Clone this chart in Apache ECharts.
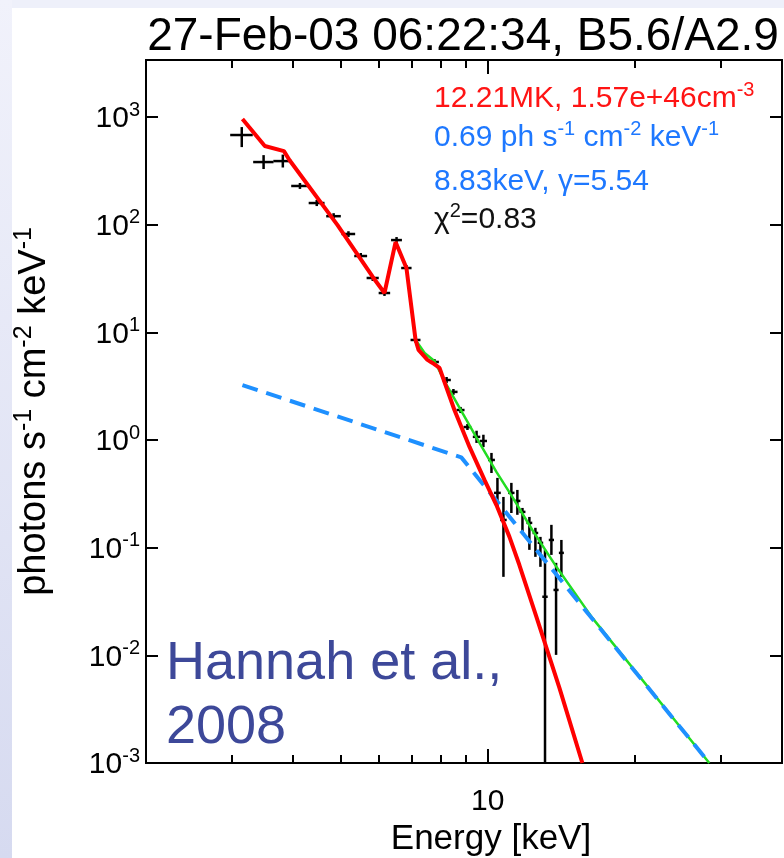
<!DOCTYPE html>
<html lang="en">
<head>
    <meta charset="UTF-8">
    <title>RHESSI spectrum</title>
    <script src="https://cdn.jsdelivr.net/npm/echarts@6/dist/echarts.min.js"></script>
    <style>
        html, body { margin: 0; padding: 0; background: #fff; }
        #chart { width: 784px; height: 858px; }
    </style>
</head>
<body>
    <div id="chart"></div>
    <script>
        // observed count spectrum (keV, photons s^-1 cm^-2 keV^-1), 1/3 keV bins
        const energy = [3.14, 3.48, 3.81, 4.13, 4.47, 4.84, 5.19, 5.50, 5.82, 6.15, 6.51, 6.82,
            7.12, 7.78, 8.24, 8.51, 8.80, 9.09, 9.49, 9.80, 10.18, 10.47, 10.77, 11.18, 11.50,
            11.78, 12.17, 12.52, 12.82, 13.10, 13.50, 13.80, 14.15];
        const flux = [681, 382, 390, 229, 159, 120, 82, 51.2, 32.0, 23.2, 72, 39.6,
            8.5, 5.31, 3.61, 2.80, 1.90, 1.32, 1.07, 0.98, 0.653, 0.323, 0.181, 0.323, 0.272,
            0.215, 0.170, 0.137, 0.111, 0.035, 0.118, 0.0405, 0.0895];
        const fluxLow = [526, 329, 340, 215, 149, 113, 77, 48.0, 30.0, 21.8, 67.5, 37.1,
            8.0, 4.98, 3.39, 2.63, 1.78, 1.24, 0.94, 0.86, 0.494, 0.239, 0.0536, 0.210, 0.202,
            0.137, 0.0955, 0.0822, 0.0664, 0.0005, 0.0857, 0.0101, 0.0536];
        const fluxHigh = [807, 443, 448, 244, 170, 128, 87, 54.6, 34.1, 24.7, 76.8, 42.2,
            9.06, 5.66, 3.85, 2.98, 2.03, 1.41, 1.22, 1.12, 0.759, 0.445, 0.296, 0.400, 0.344,
            0.234, 0.193, 0.153, 0.126, 0.0955, 0.163, 0.0723, 0.118];
        const binWidth = 1 / 3;

        // thermal model (red)
        const thermalE = [3.15, 3.50, 3.83, 3.93, 4.93, 5.82, 6.15, 6.48, 6.82, 7.12, 7.22, 7.53,
            7.71, 7.97, 8.55, 9.18, 9.85, 10.42, 11.08, 11.61, 12.58, 14.02, 15.62];
        const thermalF = [958, 538, 483, 399, 99, 32.7, 23.2, 69, 39.6, 8.5, 6.87, 5.55,
            5.2, 4.67, 1.90, 0.863, 0.427, 0.249, 0.126, 0.069, 0.0228, 0.00499, 0.001];

        // thermal + non-thermal (green)
        const totalE = [7.15, 7.43, 7.78, 8.24, 8.76, 9.62, 10.42, 11.23, 12.34, 13.82, 16.37, 28.4];
        const totalF = [8.3, 6.44, 5.42, 3.25, 1.99, 0.94, 0.506, 0.296, 0.146, 0.0664, 0.0223, 0.001];

        // broken power law (blue dashed)
        const nonthermalE = [3.15, 8.83, 28.4];
        const nonthermalF = [3.24, 0.69, 0.001];

        const xMinorTicks = [3, 4, 5, 6, 7, 8, 9, 20, 30];
        const xMajorTicks = [10];
        const yTicks = [1e-3, 1e-2, 1e-1, 1, 10, 100, 1000];

        const log = Math.log10;
        const xMin = log(2), xMax = log(40);
        const yMin = -3, yMax = 3.53;
        const font = "'Liberation Sans', Arial, sans-serif";

        const pairs = (xs, ys) => xs.map((x, i) => [log(x), log(ys[i])]);

        // normal text + superscript styles (color for labels, fill for graphic text)
        const supRich = (size, color) => {
            const small = Math.round(size * 0.66);
            return {
                b: { fontSize: size, fontFamily: font, color: color, fill: color, lineHeight: size + 4, verticalAlign: 'bottom' },
                s: { fontSize: small, fontFamily: font, color: color, fill: color, lineHeight: small, verticalAlign: 'top' }
            };
        };

        const frameLine = { show: true, onZero: false, lineStyle: { color: '#000', width: 2 } };
        const tickStyle = { color: '#000', width: 2 };

        // one axis per tick length; log minor ticks are shorter
        const xAxisBase = (pos, ticks, len) => ({
            type: 'value', position: pos, min: xMin, max: xMax,
            axisLine: frameLine, splitLine: { show: false },
            axisTick: { show: true, inside: true, length: len, customValues: ticks.map(log), lineStyle: tickStyle },
            axisLabel: { show: false }
        });

        const chart = echarts.init(document.getElementById('chart'));
        chart.setOption({
            animation: false,
            backgroundColor: '#fff',
            grid: { left: 146, right: 2, top: 60, bottom: 95, outerBoundsMode: 'none' },
            xAxis: [
                xAxisBase('bottom', xMinorTicks, 8),
                Object.assign(xAxisBase('bottom', xMajorTicks, 14), {
                    axisLabel: {
                        show: true, customValues: xMajorTicks.map(log), margin: 24,
                        fontSize: 30, fontFamily: font, color: '#000',
                        formatter: v => String(Math.round(Math.pow(10, v)))
                    },
                    name: 'Energy [keV]', nameLocation: 'middle', nameGap: 59,
                    nameTextStyle: { fontSize: 35, fontFamily: font, color: '#000', padding: [0, 0, 0, 54] }
                }),
                xAxisBase('top', xMinorTicks, 8),
                xAxisBase('top', xMajorTicks, 14)
            ],
            yAxis: [
                {
                    type: 'value', position: 'left', min: yMin, max: yMax,
                    axisLine: frameLine, splitLine: { show: false },
                    axisTick: { inside: true, length: 12, customValues: yTicks.map(log), lineStyle: tickStyle },
                    axisLabel: {
                        customValues: yTicks.map(log), margin: 6,
                        formatter: v => '{b|10}{s|' + Math.round(v) + '}',
                        rich: supRich(30, '#000')
                    },
                    name: '{b|photons s}{s|-1}{b| cm}{s|-2}{b| keV}{s|-1}',
                    nameLocation: 'middle', nameRotate: 90, nameGap: 92,
                    nameTextStyle: { rich: supRich(38, '#000') }
                },
                {
                    type: 'value', position: 'right', min: yMin, max: yMax,
                    axisLine: frameLine, splitLine: { show: false },
                    axisTick: { inside: true, length: 12, customValues: yTicks.map(log), lineStyle: tickStyle },
                    axisLabel: { show: false }
                }
            ],
            graphic: [
                {
                    type: 'rect', z: -10, shape: { x: 0, y: 0, width: 784, height: 8 },
                    style: { fill: '#eef0fa' }
                },
                {
                    type: 'rect', z: -10, shape: { x: 0, y: 0, width: 12, height: 858 },
                    style: {
                        fill: new echarts.graphic.LinearGradient(0, 0, 0, 1, [
                            { offset: 0, color: '#f1f2fb' }, { offset: 1, color: '#d6daf0' }
                        ])
                    }
                },
                {
                    type: 'text', x: 463, y: 14,
                    style: { text: '27-Feb-03 06:22:34, B5.6/A2.9', font: '46px ' + font, fill: '#000', textAlign: 'center' }
                },
                {
                    type: 'text', x: 434, y: 80,
                    style: { text: '{b|12.21MK, 1.57e+46cm}{s|-3}', rich: supRich(30, '#ff1414') }
                },
                {
                    type: 'text', x: 434, y: 119,
                    style: { text: '{b|0.69 ph s}{s|-1}{b| cm}{s|-2}{b| keV}{s|-1}', rich: supRich(30, '#1e78ff') }
                },
                {
                    type: 'text', x: 434, y: 163,
                    style: { text: '{b|8.83keV, γ=5.54}', rich: supRich(30, '#1e78ff') }
                },
                {
                    type: 'text', x: 434, y: 201,
                    style: { text: '{b|χ}{s|2}{b|=0.83}', rich: supRich(30, '#111') }
                },
                {
                    type: 'text', x: 166, y: 632,
                    style: { text: 'Hannah et al.,\n2008', font: '54px ' + font, fill: '#3d4899', lineHeight: 64 }
                }
            ],
            series: [
                {
                    name: 'data', type: 'custom', xAxisIndex: 0, yAxisIndex: 0, clip: true, z: 2,
                    data: energy.map((e, i) => [log(e - binWidth / 2), log(e + binWidth / 2),
                        log(flux[i]), log(fluxLow[i]), log(fluxHigh[i]), log(e)]),
                    encode: { x: [0, 1, 5], y: [2, 3, 4] },
                    renderItem: (params, api) => {
                        const h0 = api.coord([api.value(0), api.value(2)]);
                        const h1 = api.coord([api.value(1), api.value(2)]);
                        const v0 = api.coord([api.value(5), api.value(3)]);
                        const v1 = api.coord([api.value(5), api.value(4)]);
                        const st = { stroke: '#000', lineWidth: 2.5 };
                        return {
                            type: 'group', children: [
                                { type: 'line', shape: { x1: h0[0], y1: h0[1], x2: h1[0], y2: h1[1] }, style: st },
                                { type: 'line', shape: { x1: v0[0], y1: v0[1], x2: v1[0], y2: v1[1] }, style: st }
                            ]
                        };
                    }
                },
                {
                    name: 'thermal + non-thermal', type: 'line', z: 3, symbol: 'none',
                    data: pairs(totalE, totalF),
                    lineStyle: { color: '#22dd22', width: 2.5 }
                },
                {
                    name: 'non-thermal', type: 'line', z: 4, symbol: 'none',
                    data: pairs(nonthermalE, nonthermalF),
                    lineStyle: { color: '#1e90ff', width: 4, type: [16, 9] }
                },
                {
                    name: 'thermal', type: 'line', z: 5, symbol: 'none',
                    data: pairs(thermalE, thermalF),
                    lineStyle: { color: '#ff0000', width: 4 }
                }
            ]
        });
    </script>
</body>
</html>
